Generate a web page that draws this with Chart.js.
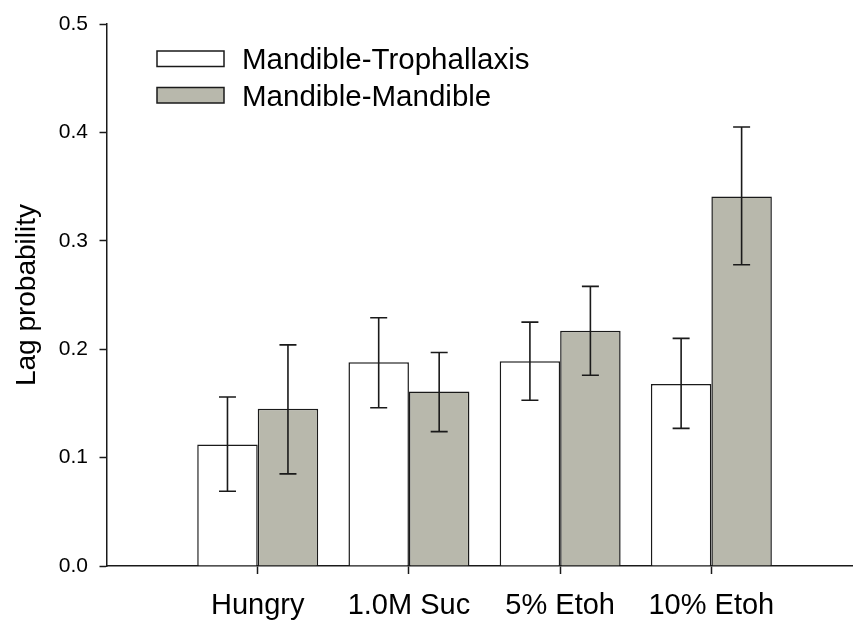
<!DOCTYPE html>
<html>
<head>
<meta charset="utf-8">
<script src="https://cdn.jsdelivr.net/npm/chart.js@4/dist/chart.umd.min.js"></script>
<style>
  html, body { margin: 0; padding: 0; background: #ffffff; }
  #wrap { width: 854px; height: 620px; position: relative; }
</style>
</head>
<body>
<div id="wrap"><canvas id="c" width="854" height="620"></canvas></div>
<script>
const categories = ['Hungry', '1.0M Suc', '5% Etoh', '10% Etoh'];
const seriesNames = ['Mandible-Trophallaxis', 'Mandible-Mandible'];
const trophValues = [0.112, 0.188, 0.189, 0.168];
const trophUpper  = [0.156, 0.229, 0.225, 0.210];
const trophLower  = [0.069, 0.146, 0.153, 0.127];
const mandValues  = [0.145, 0.161, 0.217, 0.341];
const mandUpper   = [0.204, 0.197, 0.258, 0.405];
const mandLower   = [0.085, 0.124, 0.176, 0.278];
const yTicks = [0.0, 0.1, 0.2, 0.3, 0.4, 0.5];

const FONT = '"Liberation Sans", Arial, Helvetica, sans-serif';
const INK = '#1a1a1a';

const toPoints = vals => vals.map((v, i) => ({ x: i + 1, y: v }));

const errorBars = {
  id: 'errorBars',
  afterDatasetsDraw(chart) {
    const ctx = chart.ctx;
    const yScale = chart.scales.y;
    chart.data.datasets.forEach((ds, di) => {
      const meta = chart.getDatasetMeta(di);
      meta.data.forEach((bar, i) => {
        const x = bar.x;
        const yt = yScale.getPixelForValue(ds.errUpper[i]);
        const yb = yScale.getPixelForValue(ds.errLower[i]);
        ctx.save();
        ctx.strokeStyle = INK;
        ctx.lineWidth = 1.6;
        ctx.beginPath();
        ctx.moveTo(x, yt); ctx.lineTo(x, yb);
        ctx.moveTo(x - 8.5, yt); ctx.lineTo(x + 8.5, yt);
        ctx.moveTo(x - 8.5, yb); ctx.lineTo(x + 8.5, yb);
        ctx.stroke();
        ctx.restore();
      });
    });
  }
};

const boxLegend = {
  id: 'boxLegend',
  afterDraw(chart) {
    const ctx = chart.ctx;
    ctx.save();
    chart.data.datasets.forEach((ds, i) => {
      const top = 51 + i * 36.5;
      ctx.fillStyle = ds.backgroundColor;
      ctx.fillRect(157, top, 67, 15.5);
      ctx.strokeStyle = INK;
      ctx.lineWidth = 1.5;
      ctx.strokeRect(157, top, 67, 15.5);
      ctx.fillStyle = '#000';
      ctx.font = '29.5px ' + FONT;
      ctx.textBaseline = 'alphabetic';
      ctx.textAlign = 'left';
      ctx.fillText(ds.label, 242, top + 18);
    });
    ctx.restore();
  }
};

new Chart(document.getElementById('c'), {
  type: 'bar',
  data: {
    datasets: [
      {
        label: seriesNames[0],
        data: toPoints(trophValues),
        errUpper: trophUpper, errLower: trophLower,
        backgroundColor: '#ffffff',
        borderColor: INK,
        borderWidth: 1.5
      },
      {
        label: seriesNames[1],
        data: toPoints(mandValues),
        errUpper: mandUpper, errLower: mandLower,
        backgroundColor: '#b8b8ac',
        borderColor: INK,
        borderWidth: 1.5
      }
    ]
  },
  options: {
    responsive: false,
    animation: false,
    layout: { padding: { top: 20, right: 2, left: 0, bottom: 0 } },
    datasets: { bar: { categoryPercentage: 0.8, barPercentage: 1.0 } },
    plugins: { legend: { display: false }, tooltip: { enabled: false } },
    scales: {
      x: {
        type: 'linear',
        offset: false,
        min: 0,
        max: 4.93,
        afterBuildTicks: s => { s.ticks = categories.map((c, i) => ({ value: i + 1 })); },
        afterFit: s => { s.height = 54; },
        grid: { display: true, offset: false, drawOnChartArea: false, drawTicks: true, tickLength: 8, tickColor: INK, tickWidth: 1.5 },
        border: { display: true, color: INK, width: 1.5 },
        ticks: {
          autoSkip: false, maxRotation: 0, minRotation: 0, padding: 15,
          color: '#000', font: { family: FONT, size: 29 },
          callback: v => categories[Math.round(v) - 1] ?? ''
        }
      },
      y: {
        min: 0, max: 0.5,
        afterBuildTicks: s => { s.ticks = yTicks.map(v => ({ value: v })); },
        afterFit: s => { s.width = 106.5; },
        grid: { display: true, drawOnChartArea: false, drawTicks: true, tickLength: 7, tickColor: INK, tickWidth: 1.5 },
        border: { display: true, color: INK, width: 1.5 },
        ticks: {
          padding: 11.5, color: '#000', font: { family: FONT, size: 21 },
          callback: v => Number(v).toFixed(1)
        },
        title: {
          display: true, text: 'Lag probability', color: '#000',
          font: { family: FONT, size: 28 }, padding: { top: 10, bottom: 0 }
        }
      }
    }
  },
  plugins: [errorBars, boxLegend]
});
</script>
</body>
</html>
